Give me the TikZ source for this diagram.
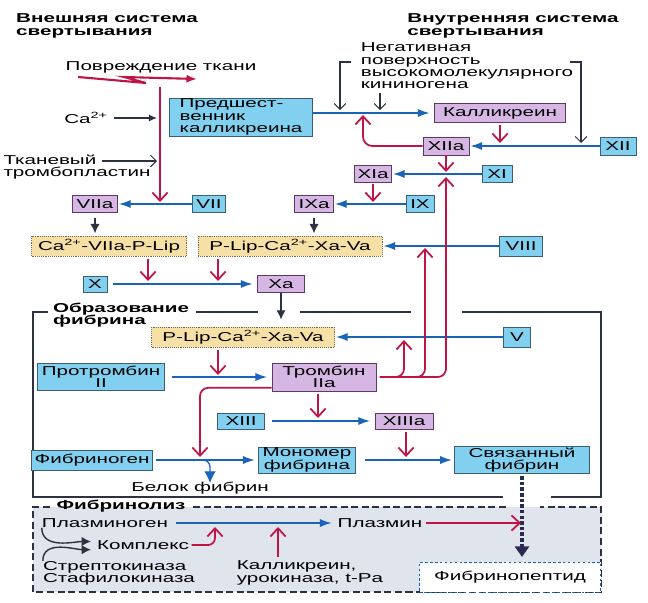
\documentclass[tikz,border=0pt]{standalone}
\usepackage{fontspec}
\setmainfont[FakeStretch=1.6]{Liberation Sans}
\usetikzlibrary{arrows.meta}
\definecolor{CYANF}{RGB}{130,208,240}
\definecolor{CYAND}{RGB}{60,95,115}
\definecolor{VIOF}{RGB}{214,182,226}
\definecolor{VIOD}{RGB}{95,55,105}
\definecolor{TANF}{RGB}{246,224,165}
\definecolor{TAND}{RGB}{120,105,70}
\definecolor{REDA}{RGB}{190,20,70}
\definecolor{BLUA}{RGB}{25,100,185}
\definecolor{DARKA}{RGB}{45,50,65}
\definecolor{NAVY}{RGB}{40,45,80}
\definecolor{LYSF}{RGB}{224,228,236}
\tikzset{
TXT/.style={font=\fontsize{11}{10.5}\selectfont, inner sep=0pt, align=left},
HEAD/.style={TXT, font=\fontsize{11}{10.5}\selectfont\bfseries},
BOX/.style 2 args={TXT, align=center, minimum width=#1*0.03cm, minimum height=#2*0.03cm, line width=0.6pt},
CYANBOX/.style={draw=CYAND, fill=CYANF},
VIOBOX/.style={draw=VIOD, fill=VIOF},
TANBOX/.style={draw=TAND, fill=TANF, densely dotted, line width=0.8pt},
FPBOX/.style={draw=BLUA, fill=white, dash pattern=on 2.2pt off 2pt, line width=2.2pt},
REDARR/.style={draw=REDA, line width=1.5pt, -{Straight Barb[length=7pt,width=13pt]}},
BLUEARR/.style={draw=BLUA, line width=1.1pt, -{Latex[length=10pt,width=7pt]}},
DARKARR/.style={draw=DARKA, line width=1.2pt, -{Latex[length=8pt,width=8pt]}},
THINARR/.style={draw=DARKA, line width=0.9pt, -{Straight Barb[length=5pt,width=10pt]}},
SMALLARR/.style={draw=DARKA, line width=0.9pt, -{Latex[length=7pt,width=6pt]}},
DOTARR/.style={draw=NAVY, line width=3pt, dash pattern=on 3pt off 1.8pt, -{Triangle[length=9pt,width=12pt]}},
FRAME/.style={draw=DARKA, line width=1pt},
LYSLINE/.style={draw=DARKA, line width=0.9pt, dash pattern=on 6pt off 3pt},
}

\begin{document}
\begin{tikzpicture}[x=0.03cm, y=-0.03cm] % pixel grid of the plate
\useasboundingbox (0,0) rectangle (648,602);

% panels
\fill[LYSF] (33,507) rectangle (601,592);
\path[LYSLINE] (50,507) -- (33,507) -- (33,592) -- (601,592) -- (601,507) -- (540,507);
\path[LYSLINE] (193,507) -- (508,507);
\path[FRAME] (48,312) -- (33,312) -- (33,497) -- (503,497);
\path[FRAME] (551,497) -- (601,497) -- (601,312) -- (462,312);
\path[FRAME] (196,312) -- (258,312);
\path[FRAME] (300,312) -- (411,312);

% texts and boxes
\node[HEAD] (hExt) at (107,26) {Внешняя система\\свертывания};
\node[HEAD] (hInt) at (513,26) {Внутренняя система\\свертывания};
\node[TXT] (neg) at (467,66) {Негативная\\поверхность\\высокомолекулярного\\кининогена};
\node[TXT] (inj) at (161,67) {Повреждение ткани};
\node[TXT] (ca) at (86,118) {Ca\textsuperscript{2+}};
\node[TXT] (tf) at (77,167) {Тканевый\\тромбопластин};
\node[CYANBOX, BOX={143}{38}, align=left] (prek) at (241,117) {Предшест-\\венник\\калликреина};
\node[VIOBOX, BOX={131}{19}] (kal) at (500,113) {Калликреин};
\node[VIOBOX, BOX={46}{18}] (xiia) at (446,146) {XIIa};
\node[CYANBOX, BOX={36}{18}] (xii) at (618,146) {XII};
\node[VIOBOX, BOX={37}{17}] (xia) at (373,174) {XIa};
\node[CYANBOX, BOX={30}{17}] (xi) at (497,174) {XI};
\node[VIOBOX, BOX={39}{17}] (ixa) at (314,204) {IXa};
\node[CYANBOX, BOX={28}{17}] (ix) at (420,204) {IX};
\node[VIOBOX, BOX={45}{17}] (viia) at (95,204) {VIIa};
\node[CYANBOX, BOX={33}{17}] (vii) at (209,204) {VII};
\node[TANBOX, BOX={155}{20}] (cplxA) at (109,246) {Ca\textsuperscript{2+}-VIIa-P-Lip};
\node[TANBOX, BOX={184}{20}] (cplxB) at (290,246) {P-Lip-Ca\textsuperscript{2+}-Xa-Va};
\node[CYANBOX, BOX={43}{20}] (viii) at (521,246) {VIII};
\node[CYANBOX, BOX={24}{16}] (fx) at (95,284) {X};
\node[VIOBOX, BOX={47}{17}] (xa) at (281,284) {Xa};
\node[HEAD, fill=white, inner xsep=2pt] (hFib) at (121,315) {Образование\\фибрина};
\node[TANBOX, BOX={183}{20}] (cplxC) at (243,337) {P-Lip-Ca\textsuperscript{2+}-Xa-Va};
\node[CYANBOX, BOX={27}{20}] (fv) at (517,337) {V};
\node[CYANBOX, BOX={127}{27}] (prot) at (101,377) {Протромбин\\II};
\node[VIOBOX, BOX={104}{28}] (thr) at (324,377) {Тромбин\\IIa};
\node[CYANBOX, BOX={47}{16}] (xiii) at (241,421) {XIII};
\node[VIOBOX, BOX={58}{16}] (xiiia) at (404,421) {XIIIa};
\node[CYANBOX, BOX={121}{20}] (fbg) at (92,460) {Фибриноген};
\node[CYANBOX, BOX={97}{26}] (mono) at (307,460) {Мономер\\фибрина};
\node[CYANBOX, BOX={135}{27}] (bound) at (522,460) {Связанный\\фибрин};
\node[TXT] (protein) at (200,488) {Белок фибрин};
\node[HEAD] (hLys) at (121,506) {Фибринолиз};
\node[TXT] (plg) at (105,523) {Плазминоген};
\node[TXT] (plm) at (380,523) {Плазмин};
\node[TXT] (cmpx) at (143,545) {Комплекс};
\node[TXT] (strk) at (119,573) {Стрептокиназа\\Стафилокиназа};
\node[TXT] (kalu) at (310,573) {Калликреин,\\урокиназа, t-Pa};
\node[FPBOX, BOX={181}{30}] (fpep) at (510,577) {Фибринопептид};

% free ends on other arrows
\coordinate (brLtop) at (351,62);
\coordinate (brLend) at (340,110);
\coordinate (negJoin) at (380,110);
\coordinate (brRtop) at (570,62);
\coordinate (brRend) at (581,143);
\coordinate (pkJoin) at (363,115);
\coordinate (kalJoin) at (500,143);
\coordinate (xiDown) at (446,172);
\coordinate (xiUp) at (446,177);
\coordinate (ixJoin) at (373,202);
\coordinate (injTop) at (160,87);
\coordinate (viiJoin) at (160,202);
\coordinate (caJoin) at (157,118);
\coordinate (tfStart) at (102,161);
\coordinate (tfJoin) at (157,161);
\coordinate (viiiUp) at (425,248);
\coordinate (xJoinA) at (148,281);
\coordinate (xJoinB) at (218,281);
\coordinate (vUp) at (404,340);
\coordinate (protJoin) at (218,375);
\coordinate (xiiiJoin) at (318,418);
\coordinate (fbgJoin) at (200,457);
\coordinate (bndJoin) at (406,457);
\coordinate (fbgSplit) at (198,460);
\coordinate (proteinTip) at (210,483);
\coordinate (plmJoin) at (521,523);
\coordinate (plgJoinA) at (215,527);
\coordinate (plgJoinB) at (278,527);

% intrinsic pathway
\path[BLUEARR, shorten >=4pt] (prek.east |- kal.west) -- (kal.west);
\path[THINARR] (brLtop) -| (brLend);
\path[THINARR, shorten <=3pt] (neg.south -| negJoin) -- (negJoin);
\path[THINARR] (brRtop) -| (brRend);
\path[REDARR, shorten <=2pt] (kal.south -| kalJoin) -- (kalJoin);
\path[BLUEARR, shorten >=1pt] (xii) -- (xiia);
\path[REDARR, rounded corners=8pt] (xiia.west) -| (pkJoin);
\path[REDARR] (xiia.south) -- (xiDown);
\path[BLUEARR, shorten >=1pt] (xi) -- (xia);
\path[REDARR, shorten <=1pt] (xia.south) -- (ixJoin);
\path[BLUEARR, shorten >=1pt] (ix) -- (ixa);

% extrinsic pathway
\path[draw=REDA, line width=1.8pt, -{Latex[length=9pt,width=7pt]}] (78,77) -- (146,83) -- (124,77) -- (197,79);
\path[REDARR] (injTop) -- (viiJoin);
\path[SMALLARR, shorten <=5pt] (ca) -- (caJoin);
\path[THINARR] (tfStart) -- (tfJoin);
\path[BLUEARR, shorten >=1pt] (vii) -- (viia);
\path[DARKARR, shorten <=4pt, shorten >=2pt] (viia.south) -- (viia.south |- cplxA.north);
\path[DARKARR, shorten <=4pt, shorten >=2pt] (ixa.south) -- (ixa.south |- cplxB.north);
\path[BLUEARR, shorten >=1pt] (viii) -- (cplxB);
\path[REDARR, shorten <=2pt] (cplxA.south -| xJoinA) -- (xJoinA);
\path[REDARR, shorten <=2pt] (cplxB.south -| xJoinB) -- (xJoinB);
\path[BLUEARR, shorten <=5pt, shorten >=4pt] (fx) -- (xa);
\path[DARKARR, shorten >=6pt] (xa.south) -- (xa.south |- cplxC.north);

% thrombin and fibrin
\path[BLUEARR, shorten >=1pt] (fv) -- (cplxC);
\path[REDARR, shorten <=2pt] (cplxC.south -| protJoin) -- (protJoin);
\path[BLUEARR, shorten <=6pt, shorten >=4pt] (prot) -- (thr);
\path[REDARR, rounded corners=7pt, shorten <=3pt] (thr.east) -| (vUp);
\path[REDARR, rounded corners=7pt, shorten <=3pt] (thr.east) -| (viiiUp);
\path[REDARR, rounded corners=7pt, shorten <=3pt] (thr.east) -| (xiUp);
\path[REDARR, rounded corners=7pt] ([yshift=3pt]thr.south west) -| (fbgJoin);
\path[REDARR, shorten <=2pt] (thr.south -| xiiiJoin) -- (xiiiJoin);
\path[BLUEARR, shorten <=6pt, shorten >=4pt] (xiii) -- (xiiia);
\path[REDARR, shorten <=2pt] (xiiia.south -| bndJoin) -- (bndJoin);
\path[BLUEARR, shorten <=3pt, shorten >=3pt] (fbg) -- (mono);
\path[BLUEARR, rounded corners=6pt, -{Latex[length=10pt,width=10pt]}] (fbgSplit) -| (proteinTip);
\path[BLUEARR, shorten <=8pt, shorten >=2pt] (mono) -- (bound);
\path[DOTARR, shorten <=2pt, shorten >=4pt] (bound.south) -- (bound.south |- fpep.north);

% fibrinolysis
\path[BLUEARR, shorten <=7pt, shorten >=5pt] (plg) -- (plm);
\path[REDARR, shorten <=3pt] (plm) -- (plmJoin);
\path[REDARR, rounded corners=6pt, shorten <=2pt] (cmpx.east) -| (plgJoinA);
\path[REDARR, shorten <=3pt] (kalu.north -| plgJoinB) -- (plgJoinB);
\path[DARKARR, shorten >=5pt] (plg.south west) to[out=-90, in=180] ([yshift=3pt]cmpx.west);
\path[DARKARR, shorten >=5pt] (strk.north west) to[out=90, in=180] ([yshift=-4pt]cmpx.west);
\end{tikzpicture}
\end{document}
